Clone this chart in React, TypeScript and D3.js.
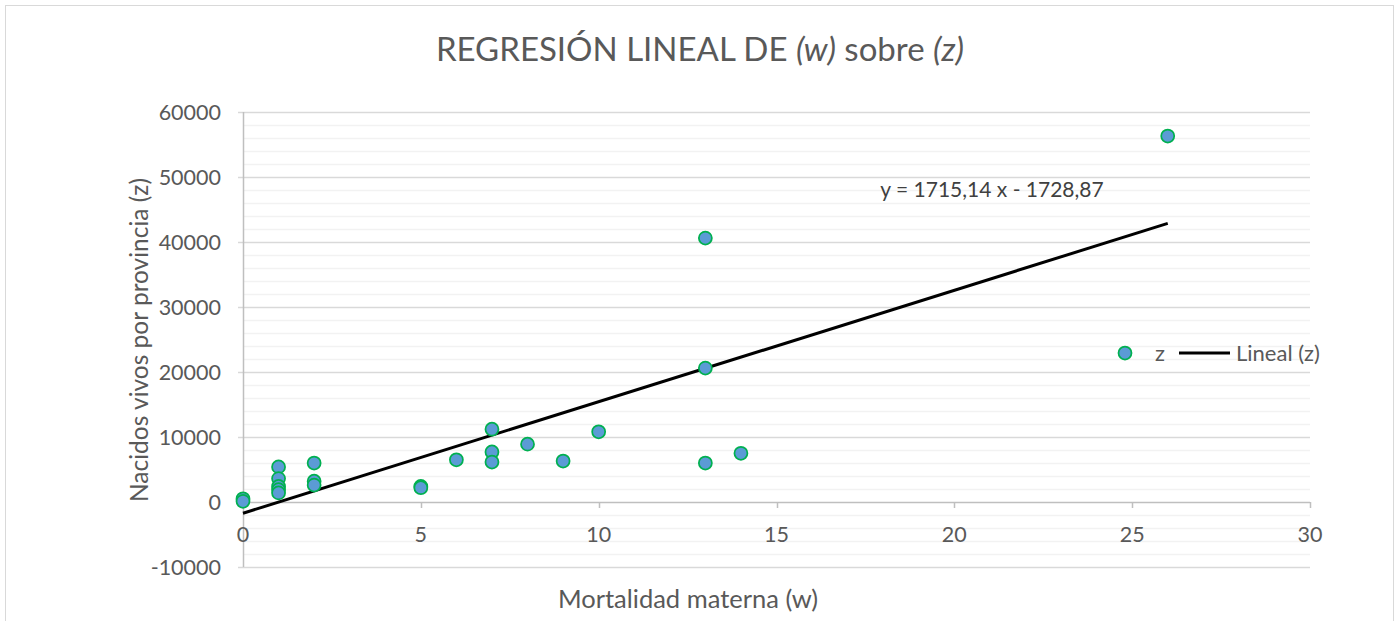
import React, { useEffect, useRef } from 'react';
import * as d3 from 'd3';

// mortalidad materna (w) y nacidos vivos (z)
const wValues = [0, 0, 1, 1, 1, 1, 1, 2, 2, 2, 5, 5, 6, 7, 7, 7, 8, 9, 10, 13, 13, 13, 14, 26];
const zValues = [500, 100, 5400, 3600, 2400, 1900, 1400, 6000, 3200, 2600, 2400, 2200, 6500, 11200, 7700, 6150, 8900, 6300, 10800, 6000, 20600, 40600, 7500, 56300];

const slope = 1715.14;
const intercept = -1728.87;
const equationLabel = 'y = 1715,14 x - 1728,87';

const xTicks = [0, 5, 10, 15, 20, 25, 30];
const yTicks = [-10000, 0, 10000, 20000, 30000, 40000, 50000, 60000];
const yMinorTicks = d3.range(-10000, 60001, 2000);

const W = 1397;
const H = 621;
const FONT = 'Lato, "Open Sans", sans-serif';

const App: React.FC = () => {
  const svgRef = useRef<SVGSVGElement>(null);

  useEffect(() => {
    document.body.style.margin = '0';
    if (!svgRef.current) return;
    const svg = d3.select(svgRef.current);
    svg.selectAll('*').remove();

    const x = d3.scaleLinear().domain([0, 30]).range([243, 1310]);
    const y = d3.scaleLinear().domain([-10000, 60000]).range([567, 112]);

    // chart border
    svg.append('rect')
      .attr('x', 5.5).attr('y', 5.5)
      .attr('width', 1388).attr('height', 640)
      .attr('fill', 'white')
      .attr('stroke', '#d9d9d9');

    // minor grid
    svg.append('g').selectAll('line')
      .data(yMinorTicks.filter(t => t % 10000 !== 0))
      .enter().append('line')
      .attr('x1', x(0)).attr('x2', x(30))
      .attr('y1', d => Math.round(y(d)) + 0.5).attr('y2', d => Math.round(y(d)) + 0.5)
      .attr('stroke', '#f2f2f2').attr('stroke-width', 1.5);

    // major grid
    svg.append('g').selectAll('line')
      .data(yTicks)
      .enter().append('line')
      .attr('x1', x(0) - 5).attr('x2', x(30))
      .attr('y1', d => Math.round(y(d)) + 0.5).attr('y2', d => Math.round(y(d)) + 0.5)
      .attr('stroke', d => d === 0 ? '#bfbfbf' : '#d9d9d9').attr('stroke-width', 1.5);

    // y axis line
    svg.append('line')
      .attr('x1', x(0) + 0.5).attr('x2', x(0) + 0.5)
      .attr('y1', y(60000)).attr('y2', y(-10000))
      .attr('stroke', '#bfbfbf').attr('stroke-width', 1.5);

    // x ticks
    svg.append('g').selectAll('line')
      .data(xTicks)
      .enter().append('line')
      .attr('x1', d => Math.round(x(d)) + 0.5).attr('x2', d => Math.round(x(d)) + 0.5)
      .attr('y1', y(0)).attr('y2', y(0) + 6)
      .attr('stroke', '#bfbfbf').attr('stroke-width', 1.5);

    // tick labels
    svg.append('g').selectAll('text')
      .data(yTicks)
      .enter().append('text')
      .attr('x', 221).attr('y', d => y(d))
      .attr('dy', '0.35em')
      .attr('text-anchor', 'end')
      .attr('font-family', FONT).attr('font-size', 21.5).attr('fill', '#595959')
      .text(d => String(d));

    svg.append('g').selectAll('text')
      .data(xTicks)
      .enter().append('text')
      .attr('x', d => x(d)).attr('y', y(0) + 40)
      .attr('text-anchor', 'middle')
      .attr('font-family', FONT).attr('font-size', 21.5).attr('fill', '#595959')
      .text(d => String(d));

    // regression line
    const line = d3.line<number>().x(d => x(d)).y(d => y(slope * d + intercept));
    svg.append('path')
      .datum([0, d3.max(wValues) as number])
      .attr('d', line)
      .attr('fill', 'none')
      .attr('stroke', '#000')
      .attr('stroke-width', 3);

    // points
    svg.append('g').selectAll('circle')
      .data(wValues.map((w, i) => [w, zValues[i]]))
      .enter().append('circle')
      .attr('cx', d => x(d[0])).attr('cy', d => y(d[1]))
      .attr('r', 6.5)
      .attr('fill', '#5b9bd5')
      .attr('stroke', '#00b050')
      .attr('stroke-width', 1.75);

    // equation
    svg.append('text')
      .attr('x', 992).attr('y', 197)
      .attr('text-anchor', 'middle')
      .attr('font-family', FONT).attr('font-size', 21).attr('fill', '#404040')
      .text(equationLabel);

    // legend
    const lg = svg.append('g');
    lg.append('circle')
      .attr('cx', 1125).attr('cy', 353).attr('r', 6.5)
      .attr('fill', '#5b9bd5').attr('stroke', '#00b050').attr('stroke-width', 1.75);
    lg.append('text')
      .attr('x', 1155).attr('y', 353).attr('dy', '0.35em')
      .attr('font-family', FONT).attr('font-size', 22).attr('fill', '#595959')
      .text('z');
    lg.append('line')
      .attr('x1', 1179).attr('x2', 1230).attr('y1', 353).attr('y2', 353)
      .attr('stroke', '#000').attr('stroke-width', 3);
    lg.append('text')
      .attr('x', 1236).attr('y', 353).attr('dy', '0.35em')
      .attr('font-family', FONT).attr('font-size', 22).attr('fill', '#595959')
      .text('Lineal (z)');

    // title
    const title = svg.append('text')
      .attr('x', 700).attr('y', 61)
      .attr('text-anchor', 'middle')
      .attr('font-family', FONT).attr('font-size', 33).attr('fill', '#595959');
    title.append('tspan').text('REGRESIÓN LINEAL DE ');
    title.append('tspan').attr('font-style', 'italic').text('(w)');
    title.append('tspan').text(' sobre ');
    title.append('tspan').attr('font-style', 'italic').text('(z)');

    // axis titles
    svg.append('text')
      .attr('x', 688).attr('y', 608)
      .attr('text-anchor', 'middle')
      .attr('font-family', FONT).attr('font-size', 25.5).attr('fill', '#595959')
      .text('Mortalidad materna (w)');

    svg.append('text')
      .attr('transform', 'translate(139, 340) rotate(-90)')
      .attr('dy', '0.35em')
      .attr('text-anchor', 'middle')
      .attr('font-family', FONT).attr('font-size', 24.5).attr('fill', '#595959')
      .text('Nacidos vivos por provincia (z)');
  }, []);

  return (
    <div style={{ width: W, height: H, overflow: 'hidden' }}>
      <svg ref={svgRef} width={W} height={H} style={{ display: 'block' }} />
    </div>
  );
};

export default App;
